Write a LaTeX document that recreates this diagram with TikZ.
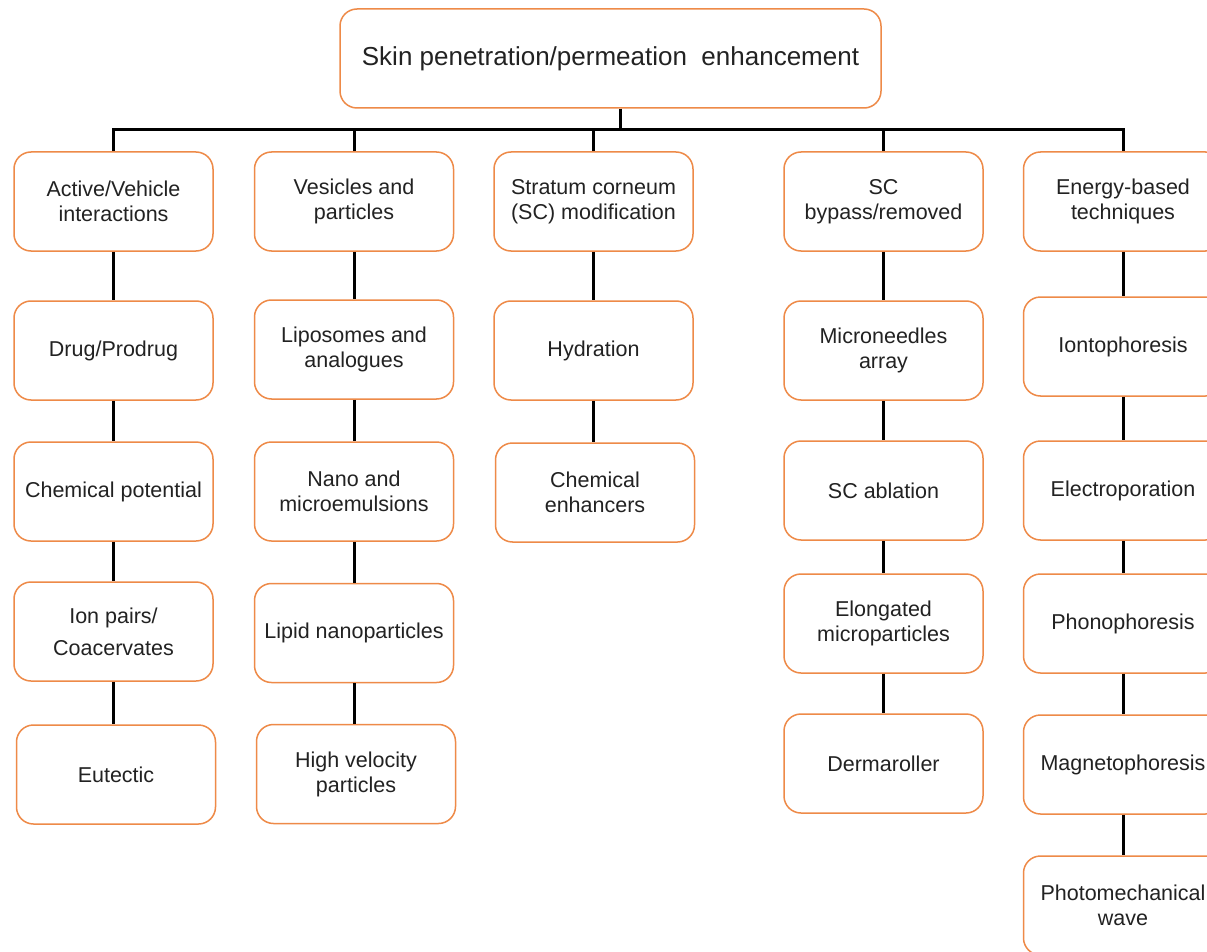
\documentclass[tikz,border=0pt]{standalone}
\usepackage{fontspec}
\setmainfont{Liberation Sans}
\definecolor{boxorange}{HTML}{EE8A48}
\definecolor{txt}{HTML}{222222}
\tikzset{
  box/.style={draw=boxorange, line width=1.5pt, rounded corners=17pt, fill=white,
    minimum width=199pt, minimum height=99pt, align=center, text=txt,
    inner sep=0pt, font=\fontsize{21.5}{25}\selectfont},
  topbox/.style={box, minimum width=541pt, font=\fontsize{26}{30}\selectfont},
  conn/.style={draw=black, line width=3pt},
}
\begin{document}
\begin{tikzpicture}[x=1pt,y=-1pt]
\useasboundingbox (0,0) rectangle (1207,952);
\fill[white] (0,0) rectangle (1207,952);

% top
\node[topbox] (top) at (610.5,58.5) {Skin penetration/permeation~ enhancement};
\coordinate (bus) at (620,130);

% column 1
\node[box] (a1) at (113.5,201.5) {Active/Vehicle\\interactions};
\node[box] (a2) at (113.5,350.5) {Drug/Prodrug};
\node[box] (a3) at (113.5,491.5) {Chemical potential};
\node[box, font=\fontsize{21.5}{32}\selectfont] (a4) at (113.5,631.5) {Ion pairs/\\Coacervates};
\node[box] (a5) at (116,774.5) {Eutectic};

% column 2
\node[box] (b1) at (354,201.5) {Vesicles and\\particles};
\node[box] (b2) at (354,349.5) {Liposomes and\\analogues};
\node[box] (b3) at (354,491.5) {Nano and\\microemulsions};
\node[box] (b4) at (354,633) {Lipid nanoparticles};
\node[box] (b5) at (356,774) {High velocity\\particles};

% column 3
\node[box] (c1) at (593.5,201.5) {Stratum corneum\\(SC) modification};
\node[box] (c2) at (593.5,350.5) {Hydration};
\node[box] (c3) at (595,492.5) {Chemical\\enhancers};

% column 4
\node[box] (d1) at (883.5,201.5) {SC\\bypass/removed};
\node[box] (d2) at (883.5,350.5) {Microneedles\\array};
\node[box] (d3) at (883.5,490.5) {SC ablation};
\node[box] (d4) at (883.5,623.5) {Elongated\\microparticles};
\node[box] (d5) at (883.5,763.5) {Dermaroller};

% column 5
\node[box] (e1) at (1123,201.5) {Energy-based\\techniques};
\node[box] (e2) at (1123,346.5) {Iontophoresis};
\node[box] (e3) at (1123,490.5) {Electroporation};
\node[box] (e4) at (1123,623.5) {Phonophoresis};
\node[box] (e5) at (1123,764.5) {Magnetophoresis};
\node[box] (e6) at (1123,905.5) {Photomechanical\\wave};

% connectors
\draw[conn] (bus |- top.south) -- (bus);
\draw[conn] (a1.north) -- (a1.north |- bus) -- (e1.north |- bus) -- (e1.north);
\draw[conn] (b1.north) -- (b1.north |- bus);
\draw[conn] (c1.north) -- (c1.north |- bus);
\draw[conn] (d1.north) -- (d1.north |- bus);

\draw[conn] (a1.south) -- (a2.north);
\draw[conn] (a2.south) -- (a3.north);
\draw[conn] (a3.south) -- (a4.north);
\draw[conn] (a4.south) -- (a4.south |- a5.north);

\draw[conn] (b1.south) -- (b2.north);
\draw[conn] (b2.south) -- (b3.north);
\draw[conn] (b3.south) -- (b4.north);
\draw[conn] (b4.south) -- (b4.south |- b5.north);

\draw[conn] (c1.south) -- (c2.north);
\draw[conn] (c2.south) -- (c2.south |- c3.north);

\draw[conn] (d1.south) -- (d2.north);
\draw[conn] (d2.south) -- (d3.north);
\draw[conn] (d3.south) -- (d4.north);
\draw[conn] (d4.south) -- (d5.north);

\draw[conn] (e1.south) -- (e2.north);
\draw[conn] (e2.south) -- (e3.north);
\draw[conn] (e3.south) -- (e4.north);
\draw[conn] (e4.south) -- (e5.north);
\draw[conn] (e5.south) -- (e6.north);
\end{tikzpicture}
\end{document}
